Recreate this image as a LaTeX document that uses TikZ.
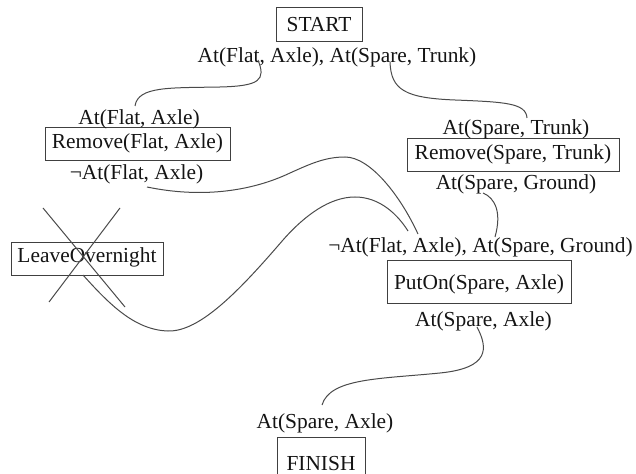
\documentclass[tikz,border=0pt]{standalone}
\usepackage{fontspec}
\setmainfont{Liberation Serif}
\definecolor{linegray}{HTML}{4A4A4A}
\definecolor{boxgray}{HTML}{404040}
\definecolor{txt}{HTML}{141414}
\begin{document}
\begin{tikzpicture}[x=1bp,y=-1bp,
  font=\fontsize{21.4bp}{25bp}\selectfont,
  every node/.style={text=txt},
  lbl/.style={anchor=base, inner sep=0pt},
  box/.style={draw=boxgray, line width=0.9bp, inner sep=0pt, text depth=0pt, text height=#1},
  link/.style={draw=linegray, line width=1bp}]
\useasboundingbox (0,0) rectangle (636,474);
\clip (0,0) rectangle (636,474);

% boxes
\node[box=15bp, minimum width=86bp, minimum height=34bp] (start) at (319,24) {START};
\node[box=9.6bp, minimum width=185bp, minimum height=33bp] (remflat) at (137.5,143.5) {Remove(Flat, Axle)};
\node[box=11bp, minimum width=212bp, minimum height=33bp] (remspare) at (513,154.5) {Remove(Spare, Trunk)};
\node[box=8.4bp, minimum width=152bp, minimum height=33bp] (leave) at (87,258.5) {LeaveOvernight};
\node[box=17bp, minimum width=184bp, minimum height=43bp] (puton) at (479,281.5) {PutOn(Spare, Axle)};
\node[box=22bp, minimum width=88bp, minimum height=44bp] (finish) at (321,459) {FINISH};

% condition labels
\node[lbl] (starteff) at (337,62.5) {At(Flat, Axle), At(Spare, Trunk)};
\node[lbl] (rfpre) at (139,124.3) {At(Flat, Axle)};
\node[lbl] (rfeff) at (136.5,179.3) {¬At(Flat, Axle)};
\node[lbl] (rspre) at (516,135) {At(Spare, Trunk)};
\node[lbl] (rseff) at (516,189.3) {At(Spare, Ground)};
\node[lbl] (pupre) at (480.5,252.7) {¬At(Flat, Axle), At(Spare, Ground)};
\node[lbl] (pueff) at (483.5,326) {At(Spare, Axle)};
\node[lbl] (fipre) at (325,428.3) {At(Spare, Axle)};

% connector end points
\coordinate (c1a) at (258,60);
\coordinate (c1b) at (135,106);
\coordinate (c2a) at (390,62);
\coordinate (c2b) at (527,118);
\coordinate (c3a) at (147,187);
\coordinate (c3b) at (418,234);
\coordinate (c4a) at (83,275);
\coordinate (c4b) at (408,231);
\coordinate (c5a) at (483,193);
\coordinate (c5b) at (495,237);
\coordinate (c6a) at (477,327);
\coordinate (c6b) at (322,405);

% causal links
\draw[link] (c1a) .. controls (266,80) and (260,86) .. (220,87)
  .. controls (170,88) and (138,86) .. (c1b);
\draw[link] (c2a) .. controls (391,90) and (405,98) .. (455,100)
  .. controls (505,102) and (526,103) .. (c2b);
\draw[link] (c3a) .. controls (200,198) and (250,192) .. (290,173)
  .. controls (310,164) and (325,157) .. (345,157)
  .. controls (370,157) and (400,195) .. (c3b);
\draw[link] (c4a) .. controls (110,305) and (135,330) .. (168,331)
  .. controls (200,332) and (240,290) .. (283,240)
  .. controls (305,215) and (330,197) .. (355,197)
  .. controls (380,197) and (398,215) .. (c4b);
\draw[link] (c5a) .. controls (495,198) and (502,212) .. (c5b);
\draw[link] (c6a) .. controls (488,348) and (490,368) .. (440,373)
  .. controls (380,379) and (330,378) .. (c6b);

% cross over LeaveOvernight
\coordinate (xa1) at (43,208);
\coordinate (xa2) at (125,307);
\coordinate (xb1) at (120,208);
\coordinate (xb2) at (49,302);
\draw[link] (xa1) -- (xa2);
\draw[link] (xb1) -- (xb2);
\end{tikzpicture}
\end{document}
